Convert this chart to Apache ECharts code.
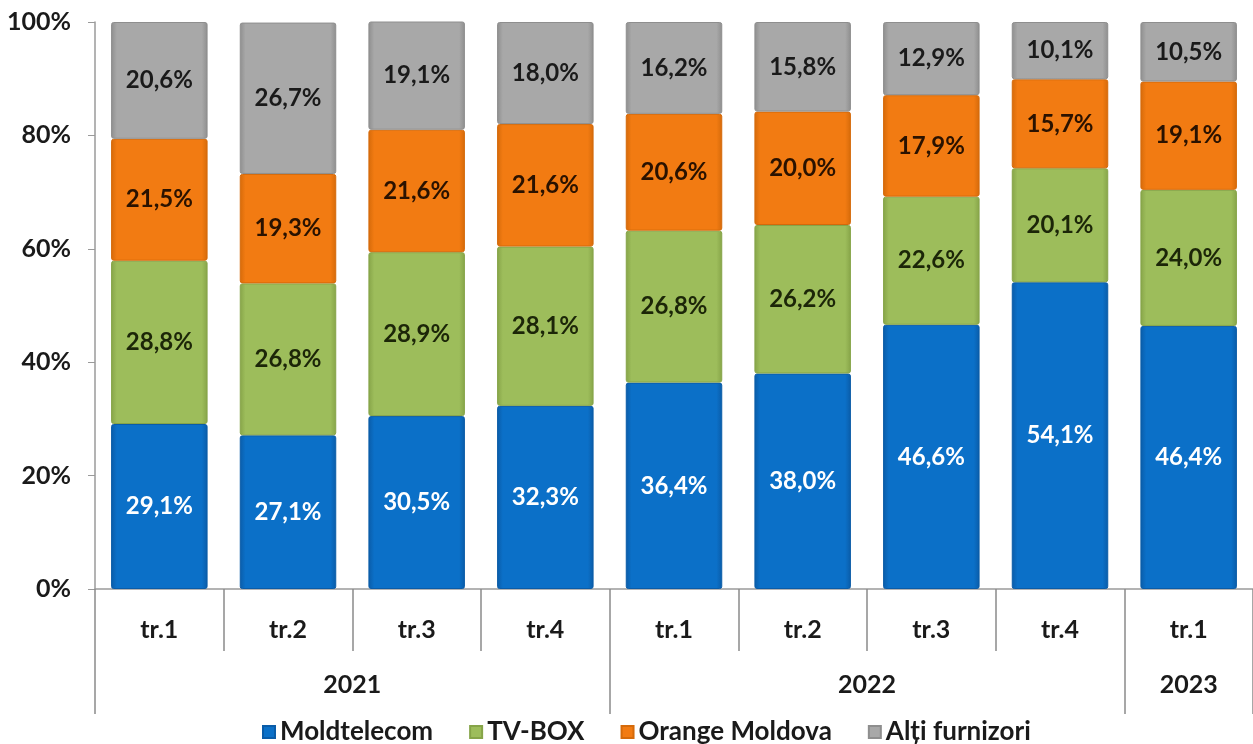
<!DOCTYPE html>
<html>
<head>
<meta charset="utf-8">
<style>
  html, body { margin: 0; padding: 0; background: #fff; }
  #chart { width: 1253px; height: 744px; }
</style>
<script src="https://cdn.jsdelivr.net/npm/echarts@6/dist/echarts.min.js"></script>
</head>
<body>
<div id="chart"></div>
<script>
const quarters = ['tr.1', 'tr.2', 'tr.3', 'tr.4', 'tr.1', 'tr.2', 'tr.3', 'tr.4', 'tr.1']
const years = ['2021', '2022', '2023']
const yearSpans = [4, 4, 1]

const moldtelecom = [29.1, 27.1, 30.5, 32.3, 36.4, 38.0, 46.6, 54.1, 46.4]
const tvbox = [28.8, 26.8, 28.9, 28.1, 26.8, 26.2, 22.6, 20.1, 24.0]
const orange = [21.5, 19.3, 21.6, 21.6, 20.6, 20.0, 17.9, 15.7, 19.1]
const altii = [20.6, 26.7, 19.1, 18.0, 16.2, 15.8, 12.9, 10.1, 10.5]

const FONT = 'Lato'

// year boundaries and centres on the 0..9 scale of the second axis
const yearBounds = [0]
yearSpans.forEach(s => yearBounds.push(yearBounds[yearBounds.length - 1] + s))
const yearCenters = yearSpans.map((s, i) => yearBounds[i] + s / 2)

const fmt = v => v.toFixed(1).replace('.', ',') + '%'

const barStyle = (edge, main) => ({
    color: {
        type: 'linear', x: 0, y: 0, x2: 1, y2: 0,
        colorStops: [
            { offset: 0, color: edge },
            { offset: 0.06, color: main },
            { offset: 0.94, color: main },
            { offset: 1, color: edge }
        ]
    },
    borderColor: edge,
    borderWidth: 1,
    borderRadius: 2
})

const makeSeries = (name, data, edge, main, textColor) => ({
    name,
    type: 'bar',
    stack: 'total',
    data,
    barCategoryGap: '25%',
    itemStyle: barStyle(edge, main),
    label: {
        show: true,
        position: 'inside',
        formatter: p => fmt(p.value),
        color: textColor,
        fontFamily: FONT,
        fontWeight: 'bold',
        fontSize: 24
    }
})

const chart = echarts.init(document.querySelector('#chart'))
const option = {
    animation: false,
    grid: { left: 95, top: 22, width: 1161, height: 567 },
    legend: {
        top: 714,
        left: 257,
        itemWidth: 12,
        itemHeight: 12,
        itemGap: 36,
        icon: 'rect',
        textStyle: { fontFamily: FONT, fontWeight: 'bold', fontSize: 26, color: '#1a1a1a' },
        data: ['Moldtelecom', 'TV-BOX', 'Orange Moldova', 'Alți furnizori']
    },
    xAxis: [
        {
            type: 'category',
            data: quarters,
            axisLine: { lineStyle: { color: '#9a9a9a', width: 1.5 } },
            axisTick: { show: true, interval: 0, length: 62, lineStyle: { color: '#8a8a8a', width: 1.5 } },
            axisLabel: { margin: 28, color: '#1a1a1a', fontFamily: FONT, fontWeight: 'bold', fontSize: 25 }
        },
        {
            type: 'value',
            position: 'bottom',
            min: 0,
            max: 9,
            axisLine: { show: false },
            splitLine: { show: false },
            axisTick: { show: true, length: 125, customValues: yearBounds, lineStyle: { color: '#8a8a8a', width: 1.5 } },
            axisLabel: {
                margin: 83,
                customValues: yearCenters,
                formatter: v => years[yearCenters.indexOf(v)] || '',
                color: '#1a1a1a', fontFamily: FONT, fontWeight: 'bold', fontSize: 25
            }
        }
    ],
    yAxis: {
        type: 'value',
        min: 0,
        max: 100,
        interval: 20,
        axisLine: { show: true, lineStyle: { color: '#9a9a9a', width: 1.5 } },
        axisTick: { show: true, length: 7, lineStyle: { color: '#9a9a9a' } },
        splitLine: { show: false },
        axisLabel: { margin: 24, formatter: '{value}%', color: '#1a1a1a', fontFamily: FONT, fontWeight: 'bold', fontSize: 25 }
    },
    series: [
        makeSeries('Moldtelecom', moldtelecom, '#0A5CA8', '#0B70C8', '#ffffff'),
        makeSeries('TV-BOX', tvbox, '#86A448', '#9DBD5B', '#1c2608'),
        makeSeries('Orange Moldova', orange, '#D56A0A', '#F27B12', '#2a1200'),
        makeSeries('Alți furnizori', altii, '#8E8E8E', '#A8A8A8', '#1a1a1a')
    ]
}
chart.setOption(option)
</script>
</body>
</html>
